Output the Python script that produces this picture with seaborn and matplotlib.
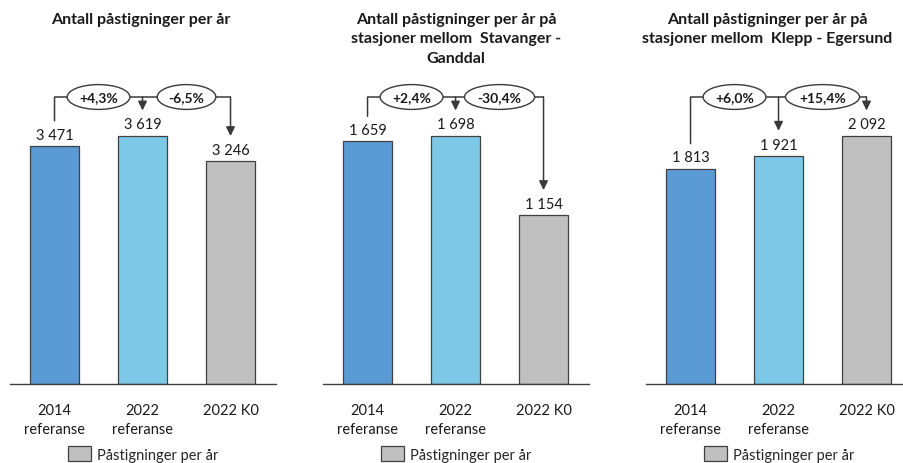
import matplotlib
matplotlib.use("Agg")
import matplotlib.pyplot as plt
import matplotlib.transforms as mtransforms
from matplotlib.patches import Patch
import seaborn as sns

# --- data -------------------------------------------------------------
categories = ["2014\nreferanse", "2022\nreferanse", "2022 K0"]
titles = [
    "Antall påstigninger per år",
    "Antall påstigninger per år på\nstasjoner mellom  Stavanger -\nGanddal",
    "Antall påstigninger per år på\nstasjoner mellom  Klepp - Egersund",
]
values_total = [3471, 3619, 3246]
values_stavanger_ganddal = [1659, 1698, 1154]
values_klepp_egersund = [1813, 1921, 2092]
change_total = ["+4,3%", "-6,5%"]
change_stavanger_ganddal = ["+2,4%", "-30,4%"]
change_klepp_egersund = ["+6,0%", "+15,4%"]
legend_label = "Påstigninger per år"

panels = [
    (titles[0], values_total, change_total),
    (titles[1], values_stavanger_ganddal, change_stavanger_ganddal),
    (titles[2], values_klepp_egersund, change_klepp_egersund),
]

# --- style ------------------------------------------------------------
sns.set_theme(style="white")
plt.rcParams["font.family"] = ["Lato", "DejaVu Sans"]

bar_colors = ["#5B9BD5", "#7DC8E6", "#C0C0C0"]
edge = "#404040"
line_col = "#3a3a3a"

W, H = 904, 464
fig = plt.figure(figsize=(W / 100, H / 100), dpi=100)

ax_left_px = [10, 323, 646]
ax_w_px = 266
ax_top_px, ax_bot_px = 98, 385
title_x_px = [141, 456, 767]

for k, (title, vals, changes) in enumerate(panels):
    ax = fig.add_axes([
        ax_left_px[k] / W,
        1 - ax_bot_px / H,
        ax_w_px / W,
        (ax_bot_px - ax_top_px) / H,
    ])
    sns.barplot(
        x=categories, y=vals, hue=categories, palette=bar_colors,
        legend=False, ax=ax, width=0.557, edgecolor=edge, linewidth=0.9,
        saturation=1,
    )
    ax.set_xlim(-0.506, -0.506 + ax_w_px / 88)
    ax.set_ylim(0, max(vals) * 1.155)
    ax.set_yticks([])
    for side in ("left", "right", "top"):
        ax.spines[side].set_visible(False)
    ax.spines["bottom"].set_color("#404040")
    ax.spines["bottom"].set_linewidth(1.0)
    ax.set_xlabel("")
    ax.set_ylabel("")
    ax.tick_params(axis="x", length=0, pad=14, labelsize=10.5, colors="#1a1a1a")
    for lab in ax.get_xticklabels():
        lab.set_linespacing(1.45)
        lab.set_va("top")

    # value labels above bars
    for cont in ax.containers:
        ax.bar_label(
            cont, labels=[f"{v:,.0f}".replace(",", " ") for v in cont.datavalues],
            padding=3, fontsize=10.5, color="#1a1a1a",
        )

    # bracket with arrows and percentage changes
    above = ax.transData + mtransforms.ScaledTranslation(0, 0.25, fig.dpi_scale_trans)
    top = ax.get_xaxis_transform()
    ax.plot([0, 2], [1, 1], transform=top, color=line_col, lw=1.1,
            clip_on=False, solid_capstyle="butt")
    for i, v in enumerate(vals):
        style = "-" if i == 0 else "-|>,head_length=0.45,head_width=0.22"
        ax.annotate(
            "", xy=(i, v), xycoords=above, xytext=(i, 1), textcoords=top,
            arrowprops=dict(arrowstyle=style, color=line_col, lw=1.1,
                            shrinkA=0, shrinkB=0),
            annotation_clip=False,
        )
    for j, txt in enumerate(changes):
        ax.text(
            j + 0.5, 1, txt, transform=top, ha="center", va="center",
            fontsize=10, fontweight="bold", color="#1a1a1a",
            bbox=dict(boxstyle="ellipse,pad=0.2", fc="white", ec=line_col, lw=1.0),
            clip_on=False,
        )

    # title
    fig.text(title_x_px[k] / W, 1 - 13 / H, title, ha="center", va="top",
             fontsize=11.5, fontweight="bold", color="#1a1a1a", linespacing=1.5)

    # legend
    ax.legend(
        handles=[Patch(facecolor="#C0C0C0", edgecolor=edge, linewidth=0.9)],
        labels=[legend_label], loc="center", bbox_to_anchor=(0.5, -0.244),
        frameon=False, fontsize=10.5, handlelength=1.6, handleheight=1.15,
        handletextpad=0.35, borderaxespad=0,
    )

fig.savefig("out.png", dpi=100)
